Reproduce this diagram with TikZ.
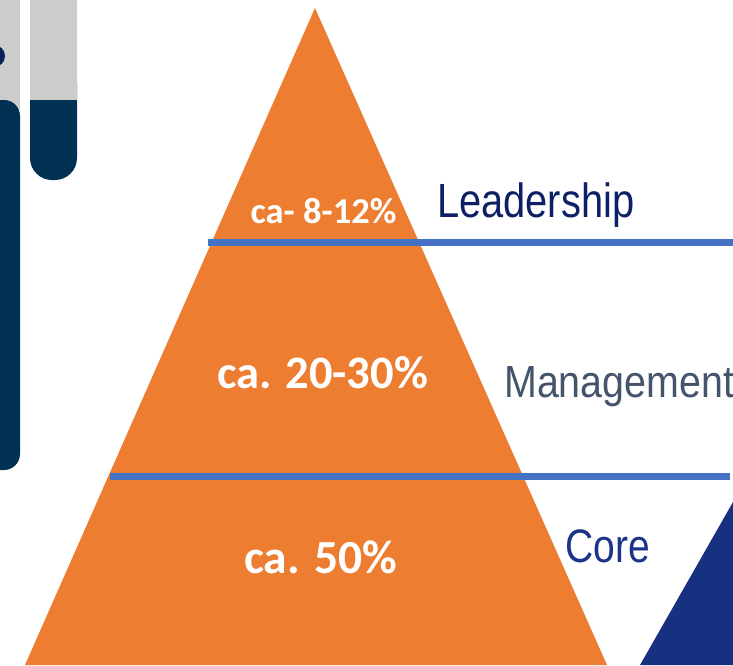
\documentclass[tikz,border=0pt]{standalone}
\usepackage{graphicx}
\usepackage{fontspec}
\setmainfont{Liberation Sans}
\newfontfamily\calibfont{Carlito}
\definecolor{pyrorange}{HTML}{ED7D31}
\definecolor{linebl}{HTML}{4472C4}
\definecolor{barnavy}{HTML}{003152}
\definecolor{bargray}{HTML}{CCCCCC}
\definecolor{leadcol}{HTML}{0D2065}
\definecolor{mgmtcol}{HTML}{44546A}
\definecolor{corecol}{HTML}{1B3489}
\definecolor{cornerbl}{HTML}{17307F}
\definecolor{blobcol}{HTML}{0B1F5C}
\tikzset{
  pct/.style={anchor=base, inner sep=0pt, text=white, font=\calibfont\bfseries},
  lvl/.style={anchor=base west, inner sep=0pt},
  sepline/.style={draw=linebl, line width=7pt},
}
\begin{document}
\begin{tikzpicture}[x=1pt,y=-1pt]
\useasboundingbox (0,0) rectangle (733,665);
\clip (0,0) rectangle (733,665);
% decorative bars
\fill[bargray] (-20,-10) rectangle (20,110);
\fill[barnavy, rounded corners=16pt] (-20,100) rectangle (20,470);
\fill[bargray] (30,-10) rectangle (77,110);
\fill[barnavy, rounded corners=22pt] (30,60) rectangle (77,180);
\fill[barnavy] (30,100) rectangle (77,120);
\fill[bargray] (30,60) rectangle (77,100);
\fill[blobcol] (-6,56) circle (11);
% corner triangle
\fill[cornerbl] (640,665) -- (733,502) -- (733,665) -- cycle;
% pyramid
\coordinate (apex) at (315,8);
\coordinate (bl) at (25,665);
\coordinate (br) at (607,665);
\fill[pyrorange] (apex) -- (bl) -- (br) -- cycle;
% separator lines
\coordinate (l1a) at (208,242);
\coordinate (l1b) at (740,242);
\coordinate (l2a) at (110,476);
\coordinate (l2b) at (730,476);
\draw[sepline] (l1a) -- (l1b);
\draw[sepline] (l2a) -- (l2b);
% percentages
\node[pct, font=\calibfont\bfseries\fontsize{36.5}{40}\selectfont] (p1) at (323.5,223) {ca- 8-12\%};
\node[pct, font=\calibfont\bfseries\fontsize{46.5}{50}\selectfont] (p2) at (322.5,388) {ca. 20-30\%};
\node[pct, font=\calibfont\bfseries\fontsize{47.5}{50}\selectfont] (p3) at (320.5,573) {ca. 50\%};
% level labels
\node[lvl, text=leadcol, font=\fontsize{48}{52}\selectfont] (lead) at (437,217) {\scalebox{0.83}[1]{Leadership}};
\node[lvl, text=mgmtcol, font=\fontsize{45}{50}\selectfont] (mgmt) at (504,397) {\scalebox{0.875}[1]{Management}};
\node[lvl, text=corecol, font=\fontsize{47}{50}\selectfont] (core) at (565,562) {\scalebox{0.83}[1]{Core}};
\end{tikzpicture}
\end{document}
